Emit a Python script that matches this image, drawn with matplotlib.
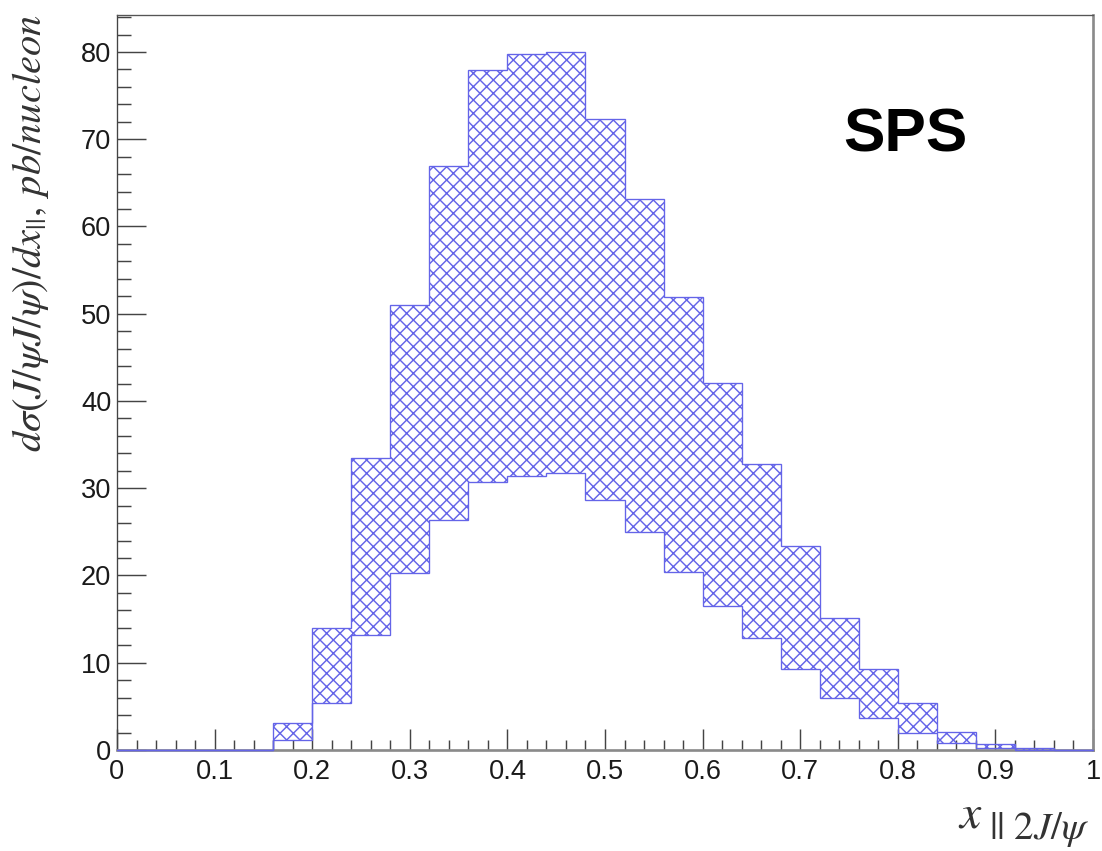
import numpy as np
import matplotlib
matplotlib.use("Agg")
import matplotlib.pyplot as plt
from matplotlib.ticker import MultipleLocator, FixedLocator, FixedFormatter

# ---------------- data ----------------
bin_edges = [0.00, 0.04, 0.08, 0.12, 0.16, 0.20, 0.24, 0.28, 0.32, 0.36, 0.40,
             0.44, 0.48, 0.52, 0.56, 0.60, 0.64, 0.68, 0.72, 0.76, 0.80,
             0.84, 0.88, 0.92, 0.96, 1.00]
upper = [0, 0, 0, 0, 3.1, 14.0, 33.5, 51.0, 66.9, 77.9, 79.8, 80.0, 72.3,
         63.1, 51.9, 42.1, 32.8, 23.4, 15.1, 9.3, 5.4, 2.1, 0.7, 0.2, 0.05]
lower = [0, 0, 0, 0, 1.1, 5.4, 13.2, 20.3, 26.4, 30.7, 31.4, 31.7, 28.7,
         25.0, 20.4, 16.5, 12.8, 9.3, 6.0, 3.7, 2.0, 0.8, 0.2, 0.05, 0.0]
xticks = [0, 0.1, 0.2, 0.3, 0.4, 0.5, 0.6, 0.7, 0.8, 0.9, 1.0]
xticklabels = ["0", "0.1", "0.2", "0.3", "0.4", "0.5", "0.6", "0.7", "0.8", "0.9", "1"]
yticks = [0, 10, 20, 30, 40, 50, 60, 70, 80]
yticklabels = ["0", "10", "20", "30", "40", "50", "60", "70", "80"]

BLUE = "#6464e8"
DPI = 80
W, H = 1102, 851
plt.rcParams["mathtext.fontset"] = "stix"
plt.rcParams["hatch.linewidth"] = 1.3
plt.rcParams["hatch.color"] = BLUE

fig = plt.figure(figsize=(W / DPI, H / DPI), dpi=DPI)
ax = fig.add_axes([117 / W, 101 / H, 976 / W, 735 / H])

ax.stairs(upper, bin_edges, baseline=lower, fill=True, facecolor="none",
          edgecolor=BLUE, hatch="xx", linewidth=1.2, zorder=3, clip_on=False)

ax.set_xlim(0, 1)
ax.set_ylim(0, 84.24)

ax.xaxis.set_major_locator(FixedLocator(xticks))
ax.xaxis.set_major_formatter(FixedFormatter(xticklabels))
ax.xaxis.set_minor_locator(MultipleLocator(0.02))
ax.yaxis.set_major_locator(FixedLocator(yticks))
ax.yaxis.set_major_formatter(FixedFormatter(yticklabels))
ax.yaxis.set_minor_locator(MultipleLocator(2))

ax.tick_params(axis="x", which="major", direction="in", length=18.5, width=1.3,
               color="#444444", pad=8, labelsize=24.5)
ax.tick_params(axis="x", which="minor", direction="in", length=9, width=1.3,
               color="#444444")
ax.tick_params(axis="y", which="major", direction="in", length=26, width=1.3,
               color="#444444", pad=5, labelsize=24.5)
ax.tick_params(axis="y", which="minor", direction="in", length=12.6, width=1.3,
               color="#444444")
for lab in ax.get_xticklabels() + ax.get_yticklabels():
    lab.set_fontfamily("Liberation Sans")
    lab.set_color("#1a1a1a")

ax.spines["left"].set_color("#444444")
ax.spines["left"].set_linewidth(1.2)
ax.spines["top"].set_color("#555555")
ax.spines["top"].set_linewidth(1.2)
ax.spines["bottom"].set_color("#8a8a8a")
ax.spines["bottom"].set_linewidth(2.4)
ax.spines["right"].set_color("#8a8a8a")
ax.spines["right"].set_linewidth(2.4)

ax.text(0.808, 0.835, "SPS", transform=ax.transAxes, ha="center", va="center",
        fontsize=56, fontweight="bold", family="Liberation Sans", color="black")

fig.text(31 / W, 1 - 14 / H,
         r"$d\sigma(J/\psi J/\psi)/dx_{||},\, pb/nucleon$",
         rotation=90, ha="center", va="top", fontsize=36.5, color="#333333")

fig.text(958 / W, 1 - 827 / H, r"$x$",
         ha="left", va="baseline", fontsize=43, color="#333333")
fig.text(1089 / W, 1 - 839 / H, r"$||\ 2J/\psi$",
         ha="right", va="baseline", fontsize=35, color="#333333")

fig.savefig("out.png", dpi=DPI)
